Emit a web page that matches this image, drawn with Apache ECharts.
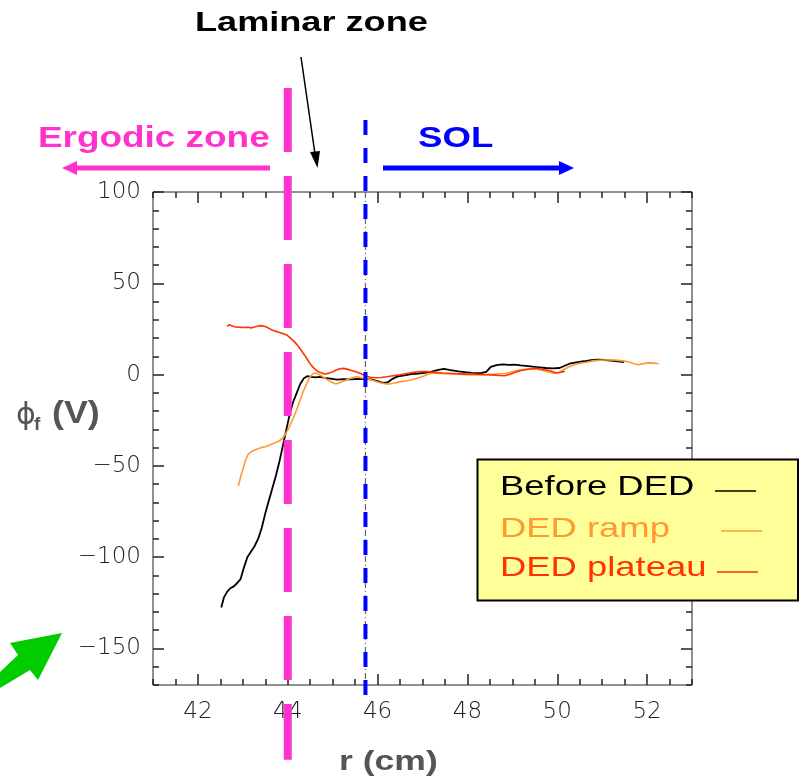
<!DOCTYPE html>
<html>
<head>
<meta charset="utf-8">
<script src="https://cdn.jsdelivr.net/npm/echarts@6/dist/echarts.min.js"></script>
<style>
  html, body { margin: 0; padding: 0; background: #ffffff; }
  #chart { width: 802px; height: 783px; }
</style>
</head>
<body>
<div id="chart"></div>
<script>
// Radial profiles of floating potential phi_f (V) versus r (cm)
const rBefore = [42.52,42.58,42.65,42.72,42.80,42.88,42.95,43.02,43.10,43.18,43.26,43.34,43.42,43.50,43.58,43.66,43.74,43.82,43.90,43.97,44.05,44.12,44.20,44.28,44.36,44.44,44.52,44.62,44.72,44.82,44.95,45.10,45.25,45.40,45.55,45.70,45.85,46.00,46.12,46.22,46.32,46.45,46.60,46.75,46.90,47.05,47.20,47.35,47.48,47.62,47.80,47.95,48.10,48.30,48.42,48.52,48.65,48.78,48.92,49.05,49.18,49.30,49.45,49.60,49.75,49.90,50.05,50.18,50.30,50.45,50.60,50.75,50.90,51.05,51.20,51.35,51.49];
const phiBefore = [-127.5,-122,-119,-117,-116,-114,-112,-106,-100,-97,-94,-90,-84,-76,-69,-62,-55,-47,-38,-30,-21,-15,-10,-5,-2,-0.8,-1.2,-1.5,-1.3,-1.8,-2.2,-2.8,-2.5,-2.6,-2.4,-2.5,-2.6,-3.6,-4.5,-4.3,-2.5,-1.0,-0.4,0.2,0.5,1.0,1.6,2.6,3.1,2.5,1.8,1.3,0.9,0.8,1.5,4.2,5.2,5.6,5.3,5.5,5.0,4.8,4.4,4.0,3.6,3.4,3.6,5.0,6.2,6.8,7.3,7.9,8.2,8.0,7.7,7.3,6.8];

const rRamp = [42.90,42.95,43.00,43.06,43.12,43.20,43.30,43.40,43.50,43.60,43.70,43.80,43.88,43.95,44.03,44.10,44.18,44.26,44.34,44.42,44.49,44.56,44.62,44.70,44.78,44.86,44.95,45.05,45.12,45.22,45.32,45.42,45.53,45.65,45.78,45.90,46.02,46.15,46.25,46.38,46.50,46.62,46.75,46.88,47.00,47.12,47.22,47.35,47.50,47.65,47.80,47.95,48.10,48.25,48.40,48.55,48.70,48.85,48.95,49.05,49.18,49.30,49.45,49.55,49.68,49.80,49.92,50.02,50.13,50.25,50.38,50.50,50.65,50.80,50.92,51.05,51.20,51.35,51.50,51.62,51.72,51.82,51.92,52.05,52.15,52.26];
const phiRamp = [-61,-56,-52,-47,-43.5,-42,-41,-40,-39.5,-38.5,-37.5,-36.5,-35,-32.5,-29,-25,-20.5,-15,-9.5,-5,-1.5,0.5,0.9,0,-1.2,-2.5,-3.8,-5.0,-4.8,-3.8,-2.8,-1.8,-1.2,-1.8,-2.4,-3.2,-4.2,-5.0,-5.2,-4.6,-4.0,-3.5,-3.0,-2.0,-1.0,0.2,0.9,0.6,0.5,0.3,0.2,0.0,-0.2,-0.1,0.0,0.2,0.4,0.6,1.2,2.0,2.6,2.9,3.1,3.0,2.2,1.4,0.8,1.0,2.6,4.2,5.4,6.2,6.8,7.5,7.8,8.0,8.1,7.8,7.4,6.8,5.8,5.4,6.0,6.4,6.3,5.9];

const rPlateau = [42.65,42.70,42.75,42.82,42.90,43.00,43.10,43.20,43.30,43.40,43.48,43.56,43.64,43.72,43.80,43.90,43.99,44.06,44.14,44.22,44.30,44.38,44.45,44.52,44.60,44.68,44.76,44.84,44.92,45.00,45.08,45.16,45.24,45.32,45.42,45.52,45.62,45.72,45.83,45.95,46.08,46.20,46.35,46.50,46.65,46.80,46.98,47.12,47.28,47.44,47.60,47.75,47.90,48.06,48.25,48.45,48.60,48.72,48.83,48.95,49.08,49.20,49.32,49.45,49.55,49.68,49.82,49.92,49.98,50.08,50.17];
const phiPlateau = [26.4,27.3,26.8,26.2,26.0,25.8,25.9,25.6,26.3,26.8,26.5,25.6,24.6,23.8,23.2,22.4,21.5,20.0,18.2,16.0,13.2,10.5,7.7,5.2,3.1,1.6,0.8,0.3,0.8,1.6,2.5,3.2,3.4,3.0,2.2,1.6,0.6,-0.6,-1.5,-1.7,-1.6,-1.2,-0.6,-0.1,0.6,1.2,1.7,1.6,1.2,0.9,0.7,0.5,0.4,0.3,0.1,-0.1,-0.3,-0.5,-0.6,0.2,1.4,2.2,2.8,3.3,3.4,2.8,2.2,1.4,0.9,1.3,1.8];

// Axis ranges and labelled ticks
const rRange = [41, 53];
const phiRange = [-170, 100];
const rMajorTicks = [42, 44, 46, 48, 50, 52];
const phiMajorTicks = [-150, -100, -50, 0, 50, 100];

// Zone boundaries (r in cm) and the vertical extent of each marker (V)
const ergodicEdgeR = 44;
const ergodicEdgeSpan = [157, -211];
const separatrixR = 45.73;
const separatrixSpan = [139.4, -176.6];

const seriesNames = ['Before DED', 'DED ramp', 'DED plateau'];
const seriesColors = ['#000000', '#ff9933', '#ff3300'];

const zip = (xs, ys) => xs.map((x, i) => [x, ys[i]]);

const chart = echarts.init(document.getElementById('chart'), null, { renderer: 'canvas' });

const tickFont = { fontFamily: 'DejaVu Sans', fontSize: 23, fontWeight: 300, color: '#222' };
const minus = v => (v < 0 ? '\u2212' + Math.abs(v) : String(v));

function minorAxis(pos, range, step, labelFn, isX) {
  return {
    type: 'value', position: pos, min: range[0], max: range[1], interval: step,
    axisLine: { show: false, onZero: false },
    axisTick: { show: true, inside: true, length: 6, lineStyle: { color: '#222', width: 1.5 } },
    axisLabel: labelFn ? Object.assign({ show: true, formatter: labelFn, margin: isX ? 16 : 12 }, tickFont) : { show: false },
    splitLine: { show: false }
  };
}
function majorAxis(pos, range, ticks) {
  return {
    type: 'value', position: pos, min: range[0], max: range[1],
    axisLine: { show: false, onZero: false },
    axisTick: { show: true, inside: true, length: 11, customValues: ticks, lineStyle: { color: '#222', width: 1.5 } },
    axisLabel: { show: false },
    splitLine: { show: false }
  };
}

const xLabel = v => (rMajorTicks.indexOf(v) >= 0 ? String(v) : '');
const yLabel = v => (phiMajorTicks.indexOf(v) >= 0 ? minus(v) : '');

const curveSeries = [zip(rBefore, phiBefore), zip(rRamp, phiRamp), zip(rPlateau, phiPlateau)].map((d, i) => ({
  name: seriesNames[i], type: 'line', data: d, showSymbol: false, smooth: false,
  lineStyle: { color: seriesColors[i], width: i === 0 ? 1.8 : 1.6 }, z: 3 + i
}));

const boundarySeries = [
  { // separatrix guide inside the frame
    type: 'line', data: [[separatrixR, phiRange[1]], [separatrixR, phiRange[0]]],
    showSymbol: false, silent: true, z: 8,
    lineStyle: { color: '#666', width: 1.2, type: [6, 3, 1, 3] }
  },
  {
    type: 'line', clip: false, data: [[separatrixR, separatrixSpan[0]], [separatrixR, separatrixSpan[1]]],
    showSymbol: false, silent: true, z: 9,
    lineStyle: { color: '#0000ff', width: 4, type: [15, 13], cap: 'butt' }
  },
  {
    type: 'line', clip: false, data: [[ergodicEdgeR, ergodicEdgeSpan[0]], [ergodicEdgeR, ergodicEdgeSpan[1]]],
    showSymbol: false, silent: true, z: 10,
    lineStyle: { color: '#ff33cc', width: 8, type: [64, 24], cap: 'butt' }
  }
];

const bold = 'bold';
const graphics = [
  // zone labels
  { type: 'text', x: 195, y: 23, scaleX: 1.29, z: 20,
    style: { text: 'Laminar zone', font: bold + ' 28px "Liberation Sans"', fill: '#000', textVerticalAlign: 'middle' } },
  { type: 'line', z: 20, shape: { x1: 301, y1: 57, x2: 315, y2: 154 }, style: { stroke: '#000', lineWidth: 1.5 } },
  { type: 'polygon', z: 20, shape: { points: [[317.5, 168], [310, 152], [320, 151]] }, style: { fill: '#000' } },

  { type: 'text', x: 38, y: 139, scaleX: 1.23, z: 20,
    style: { text: 'Ergodic zone', font: bold + ' 30px "Liberation Sans"', fill: '#ff33cc', textVerticalAlign: 'middle' } },
  { type: 'rect', z: 20, shape: { x: 75, y: 165.5, width: 195, height: 5 }, style: { fill: '#ff33cc' } },
  { type: 'polygon', z: 20, shape: { points: [[62, 168], [77, 161], [77, 175]] }, style: { fill: '#ff33cc' } },

  { type: 'text', x: 418, y: 139, scaleX: 1.22, z: 20,
    style: { text: 'SOL', font: bold + ' 30px "Liberation Sans"', fill: '#0000ff', textVerticalAlign: 'middle' } },
  { type: 'rect', z: 20, shape: { x: 383, y: 165.5, width: 178, height: 5 }, style: { fill: '#0000ff' } },
  { type: 'polygon', z: 20, shape: { points: [[574, 168], [559, 161], [559, 175]] }, style: { fill: '#0000ff' } },

  // axis titles
  { type: 'text', x: 339, y: 762, scaleX: 1.27, z: 20,
    style: { text: 'r (cm)', font: bold + ' 28px "Liberation Sans"', fill: '#555', textVerticalAlign: 'middle' } },
  { type: 'text', x: 16, y: 416, z: 20,
    style: { text: '\u03d5', font: '30px "DejaVu Sans"', fill: '#555', textVerticalAlign: 'middle' } },
  { type: 'text', x: 34, y: 425, z: 20,
    style: { text: 'f', font: bold + ' 19px "Liberation Sans"', fill: '#555', textVerticalAlign: 'middle' } },
  { type: 'text', x: 52, y: 414, scaleX: 1.12, z: 20,
    style: { text: '(V)', font: bold + ' 32px "Liberation Sans"', fill: '#555', textVerticalAlign: 'middle' } },

  // green pointer at the lower left
  { type: 'polygon', z: 20, shape: { points: [[62, 633], [10, 643], [18, 655], [0, 672], [0, 688], [30, 670], [38, 680]] },
    style: { fill: '#00cc00' } },

  // legend box
  { type: 'rect', z: 30, shape: { x: 477.5, y: 459.5, width: 320.5, height: 141 },
    style: { fill: '#ffff99', stroke: '#000', lineWidth: 2 } }
];

const legendRows = [487, 529, 568];
const legendLineY = [491, 531, 572];
const legendLineX = [[715, 756], [721, 762], [717, 758]];
seriesNames.forEach((name, i) => {
  graphics.push({ type: 'text', x: 500, y: legendRows[i], scaleX: 1.3, z: 31,
    style: { text: name, font: '28px "Liberation Sans"', fill: seriesColors[i], textVerticalAlign: 'middle' } });
  graphics.push({ type: 'line', z: 31,
    shape: { x1: legendLineX[i][0], y1: legendLineY[i], x2: legendLineX[i][1], y2: legendLineY[i] },
    style: { stroke: seriesColors[i], lineWidth: 1.4 } });
});

chart.setOption({
  animation: false,
  backgroundColor: '#ffffff',
  grid: { left: 153, right: 110, top: 192, bottom: 98, show: true, borderColor: '#222', borderWidth: 1 },
  xAxis: [
    minorAxis('bottom', rRange, 0.5, xLabel, true),
    majorAxis('bottom', rRange, rMajorTicks),
    minorAxis('top', rRange, 0.5, null, true),
    majorAxis('top', rRange, rMajorTicks)
  ],
  yAxis: [
    minorAxis('left', phiRange, 10, yLabel, false),
    majorAxis('left', phiRange, phiMajorTicks),
    minorAxis('right', phiRange, 10, null, false),
    majorAxis('right', phiRange, phiMajorTicks)
  ],
  series: curveSeries.concat(boundarySeries),
  graphic: graphics
});
</script>
</body>
</html>
